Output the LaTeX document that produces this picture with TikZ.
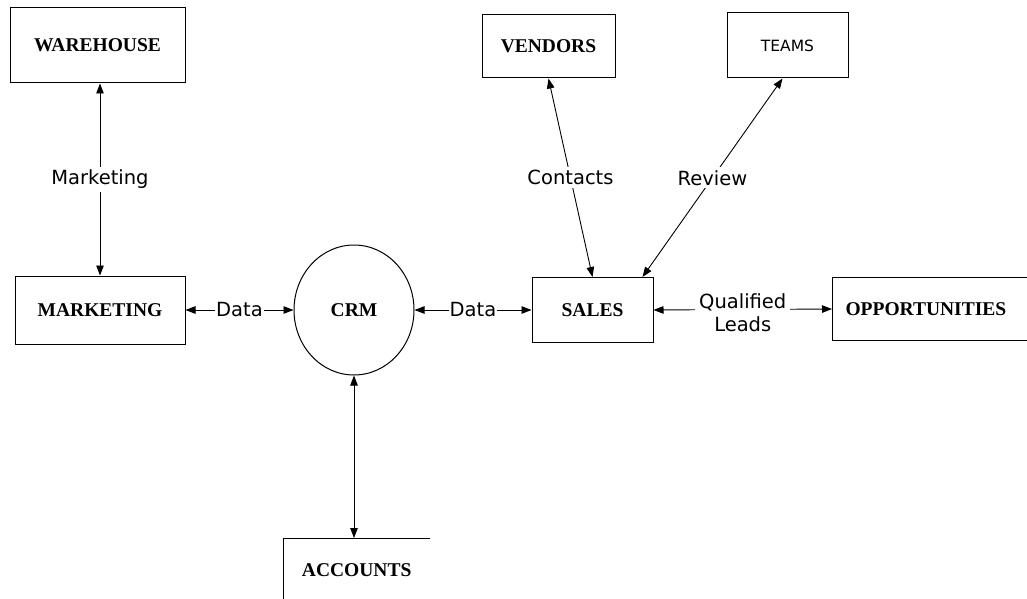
\documentclass[tikz,border=0pt]{standalone}
\usepackage{fontspec}
\setmainfont{Liberation Serif}
\newfontfamily\labfont{DejaVu Sans}
\usetikzlibrary{arrows.meta,shapes.geometric}
\begin{document}
\begin{tikzpicture}[x=1pt,y=-1pt,
  box/.style={draw,line width=1pt,inner sep=0pt,font=\fontsize{19.5}{22}\selectfont\bfseries},
  lab/.style={fill=white,inner sep=2pt,font=\labfont\fontsize{19.5}{23}\selectfont},
  conn/.style={line width=0.9pt,{Triangle[length=10pt,width=7.5pt]}-{Triangle[length=10pt,width=7.5pt]}}]
\path[use as bounding box] (0,0) rectangle (1027,599);
\clip (0,0) rectangle (1027,599);
\fill[white] (0,0) rectangle (1027,599);
% boxes
\node[box,minimum width=175,minimum height=75] (wh) at (97.5,45.5) {WAREHOUSE};
\node[box,minimum width=170,minimum height=68] (mkt) at (100,310) {MARKETING};
\node[draw,ellipse,line width=1pt,minimum width=120,minimum height=130,inner sep=0pt,font=\fontsize{19.5}{22}\selectfont\bfseries] (crm) at (354,310) {CRM};
\node[box,minimum width=121,minimum height=65] (sales) at (592.5,310) {SALES};
\node[box,minimum width=133,minimum height=63] (vend) at (548.5,46.5) {VENDORS};
\node[box,minimum width=121,minimum height=65,font=\labfont\fontsize{15.5}{18}\selectfont] (teams) at (787.5,45.5) {TEAMS};
\node[box,anchor=west,minimum height=63,text width=189,inner xsep=13pt,align=left] (opp) at (832,309) {OPPORTUNITIES};
\node[anchor=north west,minimum width=147,minimum height=64,inner sep=0pt,font=\fontsize{19.5}{22}\selectfont\bfseries] (acc) at (283,538) {ACCOUNTS};
\draw[line width=1pt] (acc.north east) -- (acc.north west) -- (acc.south west);
% connectors
\draw[conn] (mkt.north) -- node[lab,inner sep=3pt] {Marketing} (mkt.north |- wh.south);
\draw[conn] (mkt.east) -- node[lab,inner sep=1pt] {Data} (crm.west);
\draw[conn] (crm.east) -- node[lab,inner sep=1pt] {Data} (sales.west);
\draw[conn] (vend.south) -- node[lab,inner sep=3pt] {Contacts} (sales.north);
\draw[conn] ([xshift=-5pt]teams.south) -- node[lab,inner sep=3pt] {Review} ([xshift=-11pt]sales.north east);
\draw[conn] (sales.east) -- node[lab,inner sep=4pt,align=center,yshift=-3pt] {Qualified\\Leads} (opp.west);
\draw[conn] (crm.south) -- (crm.south |- acc.north);
\end{tikzpicture}
\end{document}
